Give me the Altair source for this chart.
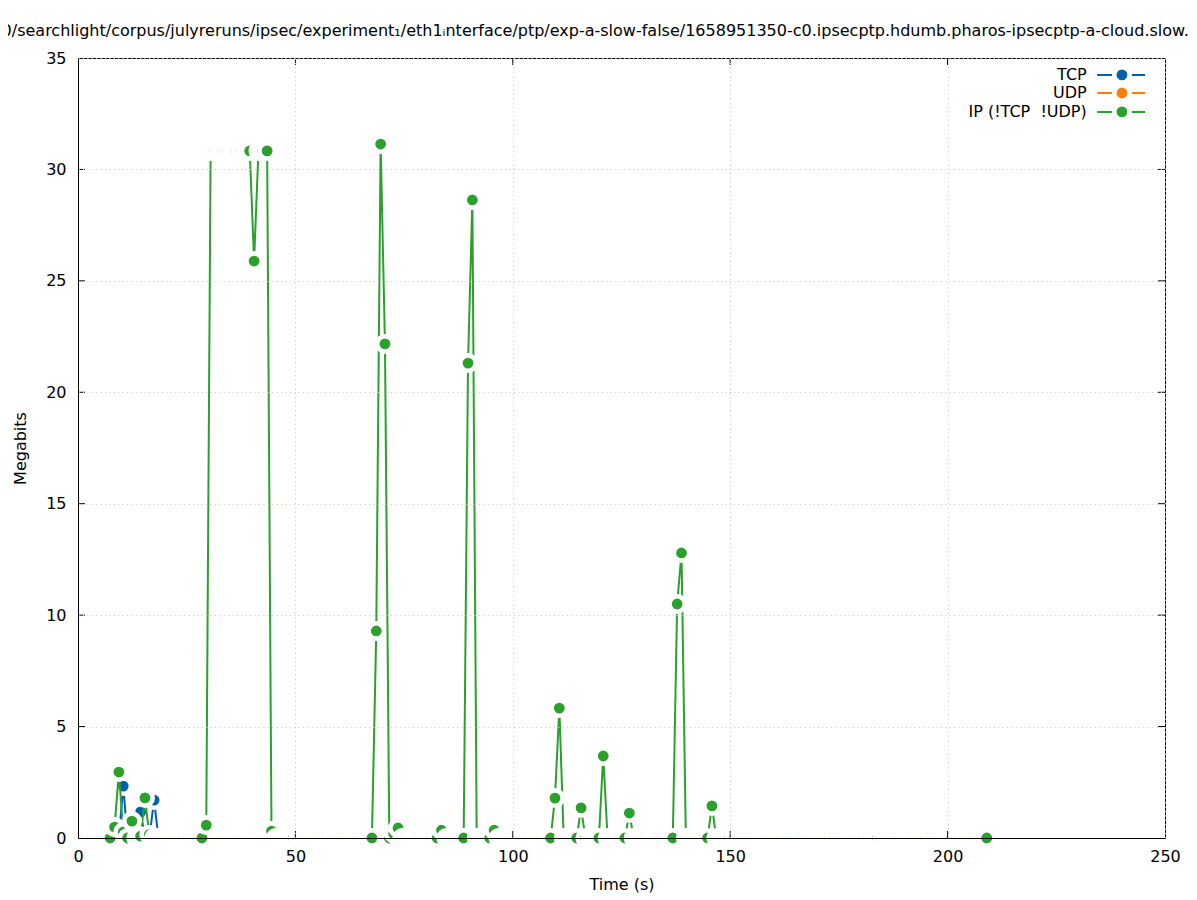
import altair as alt
import pandas as pd

# ---- data: one sample per ~1 s (time in s, Megabits) ----
sample_time = [
    0.4, 1.4, 2.4, 3.4, 4.4, 5.4, 6.4, 7.4, 8.4, 9.4,
    10.4, 11.4, 12.4, 13.4, 14.4, 15.4, 16.4, 17.5, 18.5, 19.5,
    20.5, 21.5, 22.5, 23.5, 24.5, 25.5, 26.5, 27.5, 28.5, 29.5,
    30.5, 31.5, 32.5, 33.5, 34.5, 35.5, 36.5, 37.5, 38.5, 39.5,
    40.5, 41.5, 42.5, 43.5, 44.5, 45.5, 46.5, 47.5, 48.5, 49.5,
    50.6, 51.6, 52.6, 53.6, 54.6, 55.6, 56.6, 57.6, 58.6, 59.6,
    60.6, 61.6, 62.6, 63.6, 64.6, 65.6, 66.6, 67.6, 68.6, 69.6,
    70.6, 71.6, 72.6, 73.6, 74.6, 75.6, 76.6, 77.6, 78.6, 79.6,
    80.6, 81.6, 82.6, 83.6, 84.7, 85.7, 86.7, 87.7, 88.7, 89.7,
    90.7, 91.7, 92.7, 93.7, 94.7, 95.7, 96.7, 97.7, 98.7, 99.7,
    100.7, 101.7, 102.7, 103.7, 104.7, 105.7, 106.7, 107.7, 108.7, 109.7,
    110.7, 111.7, 112.7, 113.7, 114.7, 115.7, 116.7, 117.8, 118.8, 119.8,
    120.8, 121.8, 122.8, 123.8, 124.8, 125.8, 126.8, 127.8, 128.8, 129.8,
    130.8, 131.8, 132.8, 133.8, 134.8, 135.8, 136.8, 137.8, 138.8, 139.8,
    140.8, 141.8, 142.8, 143.8, 144.8, 145.8, 146.8, 147.8, 148.8, 149.8,
    150.9, 151.9, 152.9, 153.9, 154.9, 155.9, 156.9, 157.9, 158.9, 159.9,
    160.9, 161.9, 162.9, 163.9, 164.9, 165.9, 166.9, 167.9, 168.9, 169.9,
    170.9, 171.9, 172.9, 173.9, 174.9, 175.9, 176.9, 177.9, 178.9, 179.9,
    180.9, 181.9, 182.9, 183.9, 185.0, 186.0, 187.0, 188.0, 189.0, 190.0,
    191.0, 192.0, 193.0, 194.0, 195.0, 196.0, 197.0, 198.0, 199.0, 200.0,
    201.0, 202.0, 203.0, 204.0, 205.0, 206.0, 207.0, 208.0, 209.0,
]

ip_mbit = [
    0, 0, 0, 0, 0, 0, 0, 0, 0.49, 2.96,
    0.27, 0, 0.76, 0, 0.08, 1.8, 0.15, 0, 0, 0,
    0, 0, 0, 0, 0, 0, 0, 0, 0, 0.58,
    30.83, 30.83, 30.83, 30.83, 30.83, 30.83, 30.83, 30.83, 30.83, 30.83,
    25.89, 30.83, 30.83, 30.83, 0.31, 0, 0, 0, 0, 0,
    0, 0, 0, 0, 0, 0, 0, 0, 0, 0,
    0, 0, 0, 0, 0, 0, 0, 0, 9.29, 31.14,
    22.17, 0, 0.2, 0.45, 0, 0, 0, 0, 0, 0,
    0, 0, 0, 0.35, 0, 0, 0, 0, 0, 21.31,
    28.63, 0, 0, 0, 0, 0.35, 0, 0, 0, 0,
    0, 0, 0, 0, 0, 0, 0, 0, 0, 1.79,
    5.83, 0, 0, 0, 0, 1.35, 0, 0, 0, 0,
    3.68, 0, 0, 0, 0, 0, 1.12, 0, 0, 0,
    0, 0, 0, 0, 0, 0, 0, 10.5, 12.79, 0,
    0, 0, 0, 0, 0, 1.44, 0, 0, 0, 0,
    0, 0, 0, 0, 0, 0, 0, 0, 0, 0,
    0, 0, 0, 0, 0, 0, 0, 0, 0, 0,
    0, 0, 0, 0, 0, 0, 0, 0, 0, 0,
    0, 0, 0, 0, 0, 0, 0, 0, 0, 0,
    0, 0, 0, 0, 0, 0, 0, 0, 0, 0,
    0, 0, 0, 0, 0, 0, 0, 0, 0,
]

tcp_mbit = [
    0, 0, 0, 0, 0, 0, 0, 0, 0, 0,
    2.33, 0, 0, 0, 1.17, 0, 0, 1.7, 0, 0,
    0, 0, 0, 0, 0, 0, 0, 0, 0, 0,
    0, 0, 0, 0, 0, 0, 0, 0, 0, 0,
    0, 0, 0, 0, 0, 0, 0, 0, 0, 0,
    0, 0, 0, 0, 0, 0, 0, 0, 0, 0,
    0, 0, 0, 0, 0, 0, 0, 0, 0, 0,
    0, 0, 0, 0, 0, 0, 0, 0, 0, 0,
    0, 0, 0, 0, 0, 0, 0, 0, 0, 0,
    0, 0, 0, 0, 0, 0, 0, 0, 0, 0,
    0, 0, 0, 0, 0, 0, 0, 0, 0, 0,
    0, 0, 0, 0, 0, 0, 0, 0, 0, 0,
    0, 0, 0, 0, 0, 0, 0, 0, 0, 0,
    0, 0, 0, 0, 0, 0, 0, 0, 0, 0,
    0, 0, 0, 0, 0, 0, 0, 0, 0, 0,
    0, 0, 0, 0, 0, 0, 0, 0, 0, 0,
    0, 0, 0, 0, 0, 0, 0, 0, 0, 0,
    0, 0, 0, 0, 0, 0, 0, 0, 0, 0,
    0, 0, 0, 0, 0, 0, 0, 0, 0, 0,
    0, 0, 0, 0, 0, 0, 0, 0, 0, 0,
    0, 0, 0, 0, 0, 0, 0, 0, 0,
]

udp_mbit = [
    0, 0, 0, 0, 0, 0, 0, 0, 0, 0,
    0, 0, 0, 0, 0, 0, 0, 0, 0, 0,
    0, 0, 0, 0, 0, 0, 0, 0, 0, 0,
    0, 0, 0, 0, 0, 0, 0, 0, 0, 0,
    0, 0, 0, 0, 0, 0, 0, 0, 0, 0,
    0, 0, 0, 0, 0, 0, 0, 0, 0, 0,
    0, 0, 0, 0, 0, 0, 0, 0, 0, 0,
    0, 0, 0, 0, 0, 0, 0, 0, 0, 0,
    0, 0, 0, 0, 0, 0, 0, 0, 0, 0,
    0, 0, 0, 0, 0, 0, 0, 0, 0, 0,
    0, 0, 0, 0, 0, 0, 0, 0, 0, 0,
    0, 0, 0, 0, 0, 0, 0, 0, 0, 0,
    0, 0, 0, 0, 0, 0, 0, 0, 0, 0,
    0, 0, 0, 0, 0, 0, 0, 0, 0, 0,
    0, 0, 0, 0, 0, 0, 0, 0, 0, 0,
    0, 0, 0, 0, 0, 0, 0, 0, 0, 0,
    0, 0, 0, 0, 0, 0, 0, 0, 0, 0,
    0, 0, 0, 0, 0, 0, 0, 0, 0, 0,
    0, 0, 0, 0, 0, 0, 0, 0, 0, 0,
    0, 0, 0, 0, 0, 0, 0, 0, 0, 0,
    0, 0, 0, 0, 0, 0, 0, 0, 0,
]

series_names = ["TCP", "UDP", "IP (!TCP\u00a0\u00a0!UDP)"]
series_colors = ["#0060ad", "#ff7f0e", "#2ca02c"]
legend_y = [34.24, 33.43, 32.58]

x_ticks = [50, 100, 150, 200]
y_ticks = [5, 10, 15, 20, 25, 30]

title_text = ("r0/searchlight/corpus/julyreruns/ipsec/experiment\u2081/eth1\u1d62nterface/ptp/"
              "exp-a-slow-false/1658951350-c0.ipsecptp.hdumb.pharos-ipsecptp-a-cloud.slow.t")

W, H = 1087, 780
FONT = "DejaVu Sans"
PT_SIZE, PT_RING = 237, 4.6   # dot radius ~5.4 px, white gap radius ~10 px

xscale = alt.Scale(domain=[0, 250], nice=False, zero=False)
yscale = alt.Scale(domain=[0, 35], nice=False, zero=False)

grid_style = dict(gridDash=[1.2, 3.2], gridColor="#cdcdcd", domainColor="black",
                  labelFlush=False)
x_axis = alt.Axis(values=[0] + x_ticks + [250], title="Time (s)", grid=True, ticks=False,
                  tickSize=0, labelPadding=10, titlePadding=12, zindex=1, **grid_style)
y_axis = alt.Axis(values=[0] + y_ticks + [35], title="Megabits", grid=True, ticks=False,
                  tickSize=0, labelPadding=12, titlePadding=17, zindex=1, **grid_style)


def X(field):
    return alt.X(field, scale=xscale, axis=x_axis)


def Y(field):
    return alt.Y(field, scale=yscale, axis=y_axis)


def frame(t, v):
    return pd.DataFrame({"t": t, "v": v, "seq": list(range(len(t)))})


layers = []
frames = [frame(sample_time, tcp_mbit), frame(sample_time, udp_mbit),
          frame(sample_time, ip_mbit)]
for df, col in zip(frames, series_colors):
    line = alt.Chart(df).mark_line(color=col, strokeWidth=2).encode(
        x=X("t:Q"), y=Y("v:Q"), order="seq:Q")
    # filled dot with a white ring (gnuplot pointinterval gap), drawn in time order
    pts = alt.Chart(df).mark_circle(fill=col, opacity=1, size=PT_SIZE, stroke="white",
                                    strokeWidth=PT_RING).encode(
        x=X("t:Q"), y=Y("v:Q"), order="seq:Q")
    layers += [line, pts]

# inward tick marks on all four sides
xt = pd.DataFrame({"tv": x_ticks})
yt = pd.DataFrame({"tv": y_ticks})
tick_style = dict(color="black", strokeWidth=1)
layers.append(alt.Chart(xt).mark_rule(**tick_style).encode(
    x=X("tv:Q"), y=alt.value(H), y2=alt.value(H - 7)))
layers.append(alt.Chart(xt).mark_rule(**tick_style).encode(
    x=X("tv:Q"), y=alt.value(0), y2=alt.value(7)))
layers.append(alt.Chart(yt).mark_rule(**tick_style).encode(
    y=Y("tv:Q"), x=alt.value(0), x2=alt.value(7)))
layers.append(alt.Chart(yt).mark_rule(**tick_style).encode(
    y=Y("tv:Q"), x=alt.value(W), x2=alt.value(W - 7)))

# legend (gnuplot style: label, then line-point-line sample)
leg = pd.DataFrame({"name": series_names, "col": series_colors, "ly": legend_y})
layers.append(alt.Chart(leg).mark_text(align="right", baseline="middle", fontSize=16,
                                       font=FONT, color="black").encode(
    x=alt.XDatum(232.0, scale=xscale, axis=x_axis), y=Y("ly:Q"), text="name:N"))
layers.append(alt.Chart(leg).mark_rule(strokeWidth=2).encode(
    x=alt.XDatum(234.4, scale=xscale, axis=x_axis), x2=alt.X2Datum(245.4),
    y=Y("ly:Q"), color=alt.Color("col:N", scale=None)))
layers.append(alt.Chart(leg).mark_circle(opacity=1, size=PT_SIZE, stroke="white",
                                         strokeWidth=PT_RING).encode(
    x=alt.XDatum(240.1, scale=xscale, axis=x_axis), y=Y("ly:Q"),
    fill=alt.Fill("col:N", scale=None)))

chart = alt.layer(*layers).properties(
    width=W, height=H,
    autosize=alt.AutoSizeParams(type="none"),
    padding={"left": 70, "top": 50, "right": 24, "bottom": 60},
    title=alt.TitleParams(title_text, anchor="start", frame="group", dx=-83, offset=3,
                          baseline="middle", fontSize=16, font=FONT, fontWeight="normal",
                          color="black"),
).configure_view(stroke="black", strokeWidth=1).configure_axis(
    labelFont=FONT, labelFontSize=16, labelColor="black", titleFont=FONT,
    titleFontSize=16, titleFontWeight="normal", titleColor="black", domainWidth=1,
    gridWidth=1,
)

chart.save("out.html", embed_options={"renderer": "svg", "actions": False})
